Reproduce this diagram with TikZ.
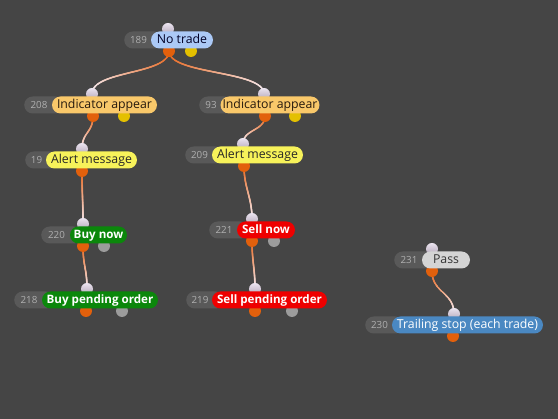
\documentclass[tikz,border=0pt]{standalone}
\usepackage{fontspec}
\setmainfont{Open Sans}
\usetikzlibrary{decorations.markings}
\definecolor{bg}{HTML}{454545}
\definecolor{numfill}{HTML}{595959}
\definecolor{numtxt}{HTML}{AFAFAF}
\definecolor{linkA}{HTML}{E8661C}
\definecolor{linkB}{HTML}{F6ECF2}
\definecolor{inTop}{HTML}{ECE4F0}
\definecolor{inBot}{HTML}{B2A6B8}
\definecolor{outOr}{HTML}{E2600C}
\definecolor{outYe}{HTML}{E4C000}
\definecolor{outGr}{HTML}{9C9C9C}
\definecolor{cNT}{HTML}{ABC9F6}
\definecolor{cIND}{HTML}{F9C86A}
\definecolor{cAL}{HTML}{F7F25A}
\definecolor{cBUY}{HTML}{0B870B}
\definecolor{cSELL}{HTML}{EE0000}
\definecolor{cPASS}{HTML}{D4D4D4}
\definecolor{cTR}{HTML}{4A88C2}
\tikzset{
  pill/.style={rectangle, rounded corners=8.5pt, minimum height=17pt, inner xsep=2pt, inner ysep=0pt,
    text height=9pt, text depth=2.5pt, font=\fontsize{12.3}{14}\selectfont},
  numpill/.style={rectangle, rounded corners=8.5pt, minimum height=17pt, inner sep=0pt, fill=numfill},
  numtext/.style={inner sep=0pt, text=numtxt, font=\fontsize{9.8}{11}\selectfont},
  stNT/.style={fill=cNT, text=black!85!blue},
  stIND/.style={fill=cIND, text=black!80!brown},
  stAL/.style={fill=cAL, text=black!85},
  stBUY/.style={fill=cBUY, text=white, font=\fontsize{11.6}{14}\selectfont\bfseries},
  stSELL/.style={fill=cSELL, text=white, font=\fontsize{11.6}{14}\selectfont\bfseries},
  stPASS/.style={fill=cPASS, text=black!80},
  stTR/.style={fill=cTR, text=white},
  link/.style={decoration={markings,
     mark=between positions 0 and 1 step 0.35pt with {
       \pgfmathtruncatemacro\pct{100-100*\pgfkeysvalueof{/pgf/decoration/mark info/distance from start}/\pgfdecoratedpathlength}
       \fill[linkA!\pct!linkB] (0,0) circle (0.85pt);}},
     decorate}
}
\newcommand\fnode[8]{%
  \pgfmathsetmacro\gw{#3-#2+12}%
  \node[numpill, minimum width=\gw pt, anchor=west] (#1g) at (#2,#5) {};
  \node[numtext] (#1n) at ({(#2+#3)/2+1},#5) {#6};
  \pgfmathsetmacro\lw{#4-#3}%
  \node[pill,#8,minimum width=\lw pt] (#1) at ({(#3+#4)/2},#5) {#7};
}
\newcommand\link[3]{\path[link] (#1) .. controls +(0,#3) and +(0,-#3) .. (#2);}
\newcommand\incirc[1]{\shade[top color=inTop, bottom color=inBot] (#1) circle (6);}
\newcommand\outcirc[2]{\fill[#2] (#1) circle (6);}
\begin{document}
\begin{tikzpicture}[x=1pt,y=-1pt]
\fill[bg] (0,0) rectangle (558,419);
\useasboundingbox (0,0) rectangle (558,419);
% ports
\coordinate (i189) at (168,29);  \coordinate (o189) at (169,51);  \coordinate (y189) at (191,51);
\coordinate (i208) at (92,94);   \coordinate (o208) at (93,116);  \coordinate (y208) at (124,116);
\coordinate (i93) at (264,94);   \coordinate (o93) at (265,116);  \coordinate (y93) at (295,116);
\coordinate (i19) at (82,149);   \coordinate (o19) at (82,171);
\coordinate (i209) at (243,144); \coordinate (o209) at (244,166);
\coordinate (i220) at (83,224);  \coordinate (o220) at (83,246);  \coordinate (g220) at (104,246);
\coordinate (i218) at (87,289);  \coordinate (o218) at (86,311);  \coordinate (g218) at (122,311);
\coordinate (i221) at (252,219); \coordinate (o221) at (252,241); \coordinate (g221) at (274,241);
\coordinate (i219) at (255,289); \coordinate (o219) at (255,311); \coordinate (g219) at (292,311);
\coordinate (i231) at (432,249); \coordinate (o231) at (432,271);
\coordinate (i230) at (454,314); \coordinate (o230) at (453,336);
% links
\link{o189}{i208}{24}
\link{o189}{i93}{24}
\link{o208}{i19}{17}
\link{o93}{i209}{15}
\link{o19}{i220}{22}
\link{o209}{i221}{22}
\link{o220}{i218}{20}
\link{o221}{i219}{20}
\link{o231}{i230}{22}
% circles
\foreach \p in {i189,i208,i93,i19,i209,i220,i218,i221,i219,i231,i230} {\incirc{\p}}
\foreach \p in {o189,o208,o93,o19,o209,o220,o218,o221,o219,o231,o230} {\outcirc{\p}{outOr}}
\foreach \p in {y189,y208,y93} {\outcirc{\p}{outYe}}
\foreach \p in {g220,g218,g221,g219} {\outcirc{\p}{outGr}}
% nodes
\fnode{n189}{124}{151}{213}{40}{189}{No trade}{stNT}
\fnode{n208}{24}{52}{157}{105}{208}{Indicator appear}{stIND}
\fnode{n93}{199}{221}{319}{105}{93}{Indicator appear}{stIND}
\fnode{n19}{25}{46}{137}{160}{19}{Alert message}{stAL}
\fnode{n209}{185}{212}{303}{155}{209}{Alert message}{stAL}
\fnode{n220}{41}{70}{127}{235}{220}{Buy now}{stBUY}
\fnode{n218}{14}{42}{158}{300}{218}{Buy pending order}{stBUY}
\fnode{n221}{209}{237}{295}{230}{221}{Sell now}{stSELL}
\fnode{n219}{186}{212}{327}{300}{219}{Sell pending order}{stSELL}
\fnode{n231}{394}{422}{470}{260}{231}{Pass}{stPASS}
\fnode{n230}{365}{392}{543}{325}{230}{Trailing stop (each trade)}{stTR}
\end{tikzpicture}
\end{document}
